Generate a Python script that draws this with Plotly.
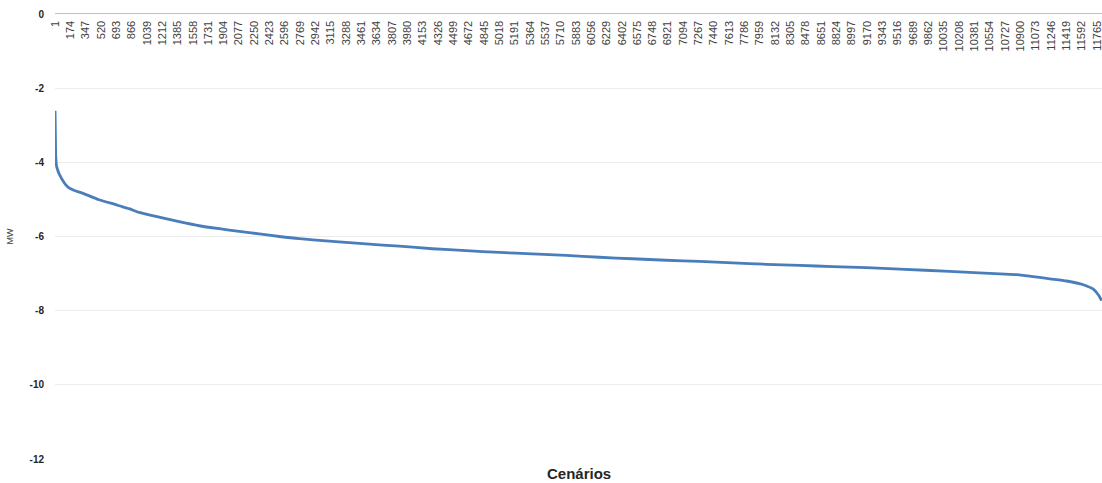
import plotly.graph_objects as go

# Scenario index (sorted scenarios) and the corresponding power value in MW
scenario = [1, 5, 9, 18, 27, 45, 65, 83, 120, 159, 220, 310, 498, 687, 724,
            837, 950, 1176, 1402, 1628, 1854, 2080, 2306, 2532, 2758, 3131,
            3512, 3888, 4261, 4642, 5018, 5391, 5772, 6148, 6521, 6902, 7278,
            7651, 8032, 8408, 8781, 9162, 9538, 10103, 10668, 10857, 11045,
            11234, 11423, 11611, 11724, 11780, 11818]
mw = [-2.61, -3.30, -3.84, -4.10, -4.18, -4.30, -4.39, -4.47, -4.60, -4.69,
      -4.76, -4.83, -5.01, -5.14, -5.17, -5.25, -5.35, -5.48, -5.60, -5.71,
      -5.79, -5.86, -5.93, -6.00, -6.06, -6.13, -6.20, -6.26, -6.33, -6.38,
      -6.43, -6.47, -6.51, -6.56, -6.60, -6.64, -6.67, -6.71, -6.75, -6.78,
      -6.81, -6.84, -6.88, -6.94, -7.01, -7.03, -7.08, -7.14, -7.20, -7.30,
      -7.42, -7.57, -7.73]

# Category labels every 173 scenarios
tick_vals = list(range(1, 11766, 173))
tick_text = [str(v) for v in tick_vals]
y_ticks = [0, -2, -4, -6, -8, -10, -12]

fig = go.Figure()
fig.add_trace(go.Scatter(
    x=scenario, y=mw, mode="lines",
    line=dict(color="#4A7EBB", width=2.8, shape="spline", smoothing=0.6),
    hoverinfo="x+y", showlegend=False,
))

fig.update_layout(
    width=1102, height=483,
    margin=dict(l=55, r=0, t=14, b=24),
    paper_bgcolor="white", plot_bgcolor="white",
    font=dict(family="Liberation Sans, Arial, sans-serif", color="#404040"),
    xaxis=dict(
        side="top", range=[0.5, 11822],
        tickmode="array", tickvals=tick_vals, ticktext=tick_text,
        tickangle=-90, ticklabelposition="inside",
        ticklabeloverflow="allow",
        tickfont=dict(size=11, color="#404040"),
        showgrid=False, zeroline=False,
        showline=True, linecolor="#bfbfbf", linewidth=1,
        ticks="",
    ),
    yaxis=dict(
        range=[-12, 0], tickmode="array", tickvals=y_ticks,
        ticktext=["<b>%d</b>" % v for v in y_ticks],
        tickfont=dict(size=10, color="#262626"),
        ticklabeloverflow="allow",
        showgrid=True, gridcolor="#ececec", gridwidth=1,
        zeroline=False, showline=False, ticks="",
        ticklabelstandoff=10,
        title=dict(text="MW", font=dict(size=9, color="#404040"), standoff=14),
    ),
    annotations=[dict(
        text="<b>Cenários</b>", x=0.5, y=0, xref="paper", yref="paper",
        yshift=-4, yanchor="top", showarrow=False,
        font=dict(size=15, color="#262626"),
    )],
)

fig.write_html("out.html")
